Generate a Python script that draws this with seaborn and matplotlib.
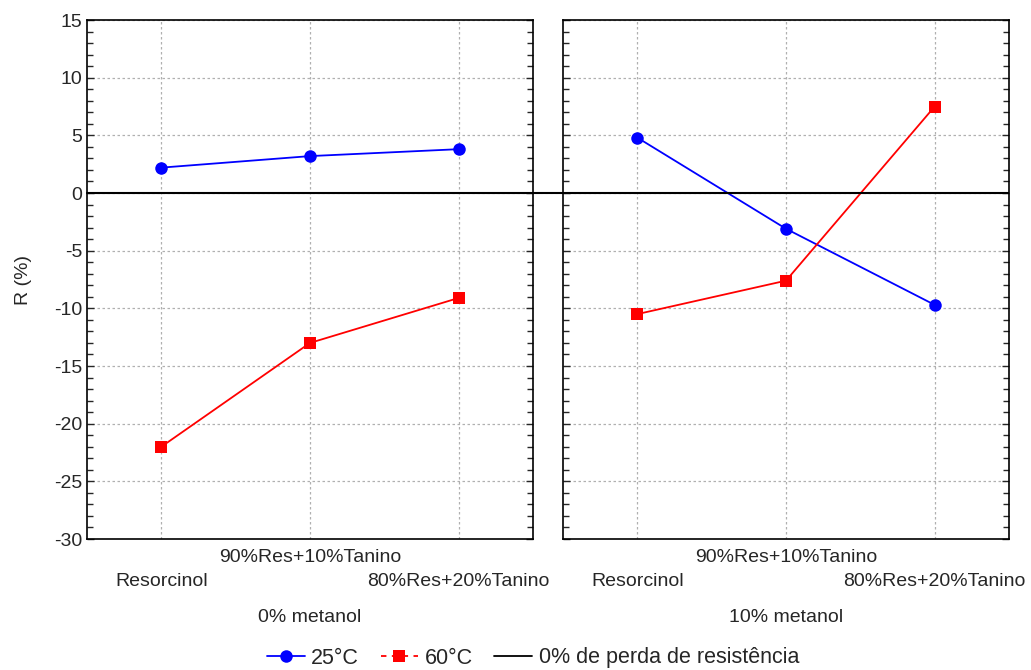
import matplotlib
matplotlib.use("Agg")
import matplotlib.pyplot as plt
from matplotlib.lines import Line2D
from matplotlib.ticker import MultipleLocator
import seaborn as sns
import pandas as pd

categories = ["Resorcinol", "90%Res+10%Tanino", "80%Res+20%Tanino"]
groups = ["0% metanol", "10% metanol"]
temps = ["25°C", "60°C"]
r_0_25 = [2.2, 3.2, 3.8]
r_0_60 = [-22.0, -13.0, -9.1]
r_10_25 = [4.8, -3.1, -9.7]
r_10_60 = [-10.5, -7.6, 7.5]

rows = []
for g, s25, s60 in [(groups[0], r_0_25, r_0_60), (groups[1], r_10_25, r_10_60)]:
    for i, c in enumerate(categories):
        rows.append({"group": g, "pos": i, "cat": c, "temp": temps[0], "R": s25[i]})
        rows.append({"group": g, "pos": i, "cat": c, "temp": temps[1], "R": s60[i]})
df = pd.DataFrame(rows)

sns.set_style("white")
plt.rcParams["font.family"] = ["Liberation Sans", "DejaVu Sans"]
plt.rcParams["font.size"] = 14
plt.rcParams["axes.unicode_minus"] = False

fig = plt.figure(figsize=(10.31, 6.70), dpi=100)
W, H = 1031, 670
PT = 72.0 / 100.0  # points per pixel
left_px = [87, 563]
width_px = 446
top_px, bot_px = 20, 539
axes = []
for lp in left_px:
    ax = fig.add_axes([lp / W, 1 - bot_px / H, width_px / W, (bot_px - top_px) / H])
    axes.append(ax)

palette = {temps[0]: "#0000ff", temps[1]: "#ff0000"}
for k, (ax, g) in enumerate(zip(axes, groups)):
    sub = df[df["group"] == g]
    sns.lineplot(data=sub, x="pos", y="R", hue="temp", style="temp",
                 markers={temps[0]: "o", temps[1]: "s"}, dashes=False,
                 palette=palette, markersize=9, markeredgewidth=0,
                 linewidth=1.3, ax=ax, legend=False, zorder=3)
    ax.set_xlim(-0.5, 2.5)
    ax.set_ylim(-30, 15)
    ax.yaxis.set_major_locator(MultipleLocator(5))
    ax.yaxis.set_minor_locator(MultipleLocator(1))
    ax.set_xticks([0, 1, 2])
    ax.set_xticklabels([])
    ax.grid(True, which="major", linestyle=(0, (2, 2)), color="#b0b0b0", linewidth=0.9)
    ax.tick_params(axis="y", which="both", direction="in", left=True, right=True,
                   length=4, width=1, labelleft=(k == 0), labelsize=14)
    ax.tick_params(axis="y", which="major", length=5)
    ax.tick_params(axis="x", length=0)
    for sp in ax.spines.values():
        sp.set_color("black")
        sp.set_linewidth(1.2)
    ax.set_xlabel("")
    ax.set_ylabel("")
    for i, c in enumerate(categories):
        yoff = -18 if i == 1 else -42
        ax.annotate(c, xy=(i, 0), xycoords=("data", "axes fraction"),
                    xytext=(0, yoff * PT), textcoords="offset points",
                    ha="center", va="center", fontsize=14)
    ax.annotate(g, xy=(0.5, 0), xycoords="axes fraction", xytext=(0, -78 * PT),
                textcoords="offset points", ha="center", va="center", fontsize=14)

gap_frac = (left_px[1] - left_px[0] - width_px) / width_px
axes[0].axhline(0, xmin=0, xmax=1 + gap_frac, color="black", linewidth=1.5,
                clip_on=False, zorder=4)
axes[1].axhline(0, color="black", linewidth=1.5, zorder=4)

axes[0].set_ylabel("R (%)", fontsize=14, labelpad=16)

handles = [
    Line2D([], [], color="#0000ff", marker="o", markersize=9, markeredgewidth=0, linewidth=1.3),
    Line2D([], [], color="#ff0000", marker="s", markersize=9, markeredgewidth=0, linewidth=1.3,
           linestyle=(0, (3, 3))),
    Line2D([], [], color="black", linewidth=1.3),
]
fig.legend(handles, [temps[0], temps[1], "0% de perda de resistência"],
           loc="center", bbox_to_anchor=(533 / W, 1 - 658 / H), ncol=3,
           frameon=False, fontsize=15.5, handlelength=1.75, columnspacing=1.0,
           handletextpad=0.3)

fig.savefig("out.png", dpi=100)
